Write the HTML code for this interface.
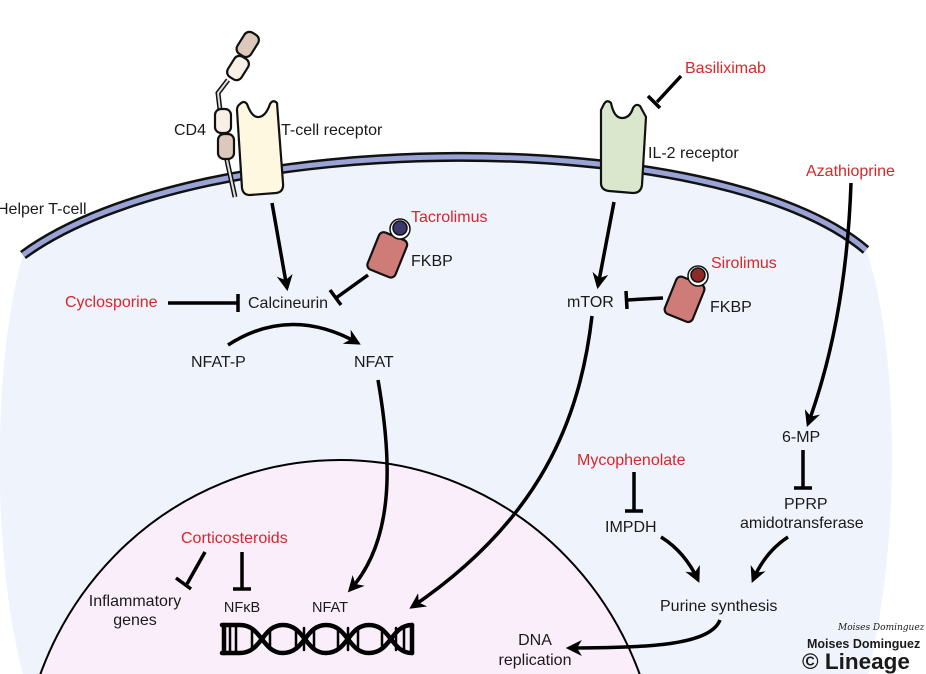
<!DOCTYPE html>
<html><head><meta charset="utf-8"><style>
html,body{margin:0;padding:0;background:#fff;overflow:hidden;width:926px;height:674px;}
svg{display:block;}
text{font-family:"Liberation Sans",Arial,sans-serif;font-size:16px;fill:#1a1a1a;}
.r{fill:#d8262a;}
</style></head><body>
<svg width="926" height="674" viewBox="0 0 926 674" xmlns="http://www.w3.org/2000/svg">
<defs>
<marker id="ah" viewBox="0 0 10 10" refX="8" refY="5" markerWidth="4.6" markerHeight="4.6" orient="auto" markerUnits="strokeWidth">
<path d="M0,0 L10,5 L0,10 L3,5 Z" fill="#000"/></marker>
</defs>
<path d="M23,255 C200,125 720,125 866,250 C895,330 905,520 868,674 L23,674 C-8,560 -8,360 23,255 Z" fill="#eff3fc"/>
<ellipse cx="340" cy="790" rx="320" ry="330" fill="#fbeefb" stroke="#000" stroke-width="2"/>
<path d="M23,255 C200,125 720,125 866,250" fill="none" stroke="#111" stroke-width="10"/>
<path d="M23,255 C200,125 720,125 866,250" fill="none" stroke="#9aa3d6" stroke-width="5"/>

<path d="M235,197 L228,165 L222,135" stroke="#111" stroke-width="5" fill="none"/>
<path d="M235,197 L228,165 L222,135" stroke="#ddd" stroke-width="2" fill="none"/>
<path d="M220,110 L218,93 L228,80" stroke="#111" stroke-width="5" fill="none"/>
<path d="M220,110 L218,93 L228,80" stroke="#ddd" stroke-width="2" fill="none"/>
<rect x="215" y="109" width="16" height="24" rx="6" fill="#f8efe6" stroke="#111" stroke-width="2.2"/>
<rect x="218" y="134" width="16" height="25" rx="6" fill="#dcc9bb" stroke="#111" stroke-width="2.2"/>
<rect x="230" y="56" width="16" height="24" rx="6" fill="#f8efe6" stroke="#111" stroke-width="2.2" transform="rotate(32 238 68)"/>
<rect x="240" y="32" width="16" height="25" rx="6" fill="#dcc9bb" stroke="#111" stroke-width="2.2" transform="rotate(32 248 44)"/>
<path d="M240,104 Q244,100 247,104 Q252,118 259,117 Q266,116 270,104 Q273,99 277,103 L283,183 Q284,192 276,193 L250,195 Q243,195 242,188 L237,110 Q237,106 240,104 Z" fill="#fdf8df" stroke="#111" stroke-width="2.2"/>
<text x="174" y="135">CD4</text>
<text x="281" y="135">T-cell receptor</text>
<text x="-3" y="214">Helper T-cell</text>

<line x1="272" y1="203" x2="287" y2="288" stroke="#000" stroke-width="3.5" marker-end="url(#ah)"/>
<text x="248" y="308">Calcineurin</text>
<text x="65" y="307" class="r">Cyclosporine</text>
<line x1="168" y1="303" x2="238" y2="303" stroke="#000" stroke-width="3.5"/>
<line x1="238" y1="294" x2="238" y2="312" stroke="#000" stroke-width="3.5"/>
<text x="411" y="222" class="r">Tacrolimus</text>
<g transform="rotate(22 388 253)">
<rect x="373" y="235" width="30" height="40" rx="5" fill="#cf7b78" stroke="#111" stroke-width="2.2"/>
</g>
<circle cx="400" cy="229" r="10" fill="#fff" stroke="#111" stroke-width="1.5"/>
<circle cx="400" cy="228" r="7" fill="#3b3a6e" stroke="#111" stroke-width="1.5"/>
<text x="411" y="266">FKBP</text>
<line x1="368" y1="275" x2="336" y2="298" stroke="#000" stroke-width="3.5"/>
<line x1="330" y1="290" x2="341" y2="305" stroke="#000" stroke-width="3.5"/>
<path d="M228,345 Q290,305 358,343" fill="none" stroke="#000" stroke-width="3.5" marker-end="url(#ah)"/>
<text x="191" y="367">NFAT-P</text>
<text x="354" y="367">NFAT</text>
<path d="M378,380 C392,460 395,540 350,590" fill="none" stroke="#000" stroke-width="3.5" marker-end="url(#ah)"/>

<path d="M604,104 Q607,99 611,103 Q614,118 622,118 Q630,118 633,108 Q636,103 640,106 L646,117 L642,185 Q641,193 633,193 L609,191 Q601,190 601,183 L601,110 Z" fill="#dbe7cd" stroke="#111" stroke-width="2.2"/>
<text x="648" y="158">IL-2 receptor</text>
<text x="685" y="73" class="r">Basiliximab</text>
<line x1="681" y1="76" x2="657" y2="102" stroke="#000" stroke-width="3.5"/>
<line x1="648" y1="96" x2="660" y2="108" stroke="#000" stroke-width="3.5"/>
<line x1="614" y1="202" x2="598" y2="286" stroke="#000" stroke-width="3.5" marker-end="url(#ah)"/>
<text x="567" y="307">mTOR</text>
<text x="711" y="268" class="r">Sirolimus</text>
<g transform="rotate(22 684 298)">
<rect x="670" y="279" width="30" height="40" rx="5" fill="#cf7b78" stroke="#111" stroke-width="2.2"/>
</g>
<circle cx="698" cy="276" r="10" fill="#fff" stroke="#111" stroke-width="1.5"/>
<circle cx="698" cy="275" r="7" fill="#8a2b2a" stroke="#111" stroke-width="1.5"/>
<text x="710" y="312">FKBP</text>
<line x1="663" y1="298" x2="627" y2="300" stroke="#000" stroke-width="3.5"/>
<line x1="626" y1="291" x2="627" y2="309" stroke="#000" stroke-width="3.5"/>
<path d="M592,316 C580,420 540,520 412,607" fill="none" stroke="#000" stroke-width="3.5" marker-end="url(#ah)"/>

<text x="806" y="176" class="r">Azathioprine</text>
<path d="M851,183 C848,270 835,350 808,424" fill="none" stroke="#000" stroke-width="3.5" marker-end="url(#ah)"/>
<text x="782" y="442">6-MP</text>
<line x1="803" y1="450" x2="803" y2="488" stroke="#000" stroke-width="3.5"/>
<line x1="794" y1="488" x2="812" y2="488" stroke="#000" stroke-width="3.5"/>
<text x="784" y="509">PPRP</text>
<text x="740" y="528">amidotransferase</text>
<text x="577" y="465" class="r">Mycophenolate</text>
<line x1="634" y1="472" x2="634" y2="511" stroke="#000" stroke-width="3.5"/>
<line x1="625" y1="511" x2="643" y2="511" stroke="#000" stroke-width="3.5"/>
<text x="605" y="532">IMPDH</text>
<path d="M661,537 Q685,552 698,580" fill="none" stroke="#000" stroke-width="3.5" marker-end="url(#ah)"/>
<path d="M788,537 Q765,552 753,580" fill="none" stroke="#000" stroke-width="3.5" marker-end="url(#ah)"/>
<text x="660" y="611">Purine synthesis</text>
<path d="M720,620 C710,645 650,648 569,648" fill="none" stroke="#000" stroke-width="3.5" marker-end="url(#ah)"/>
<text x="535" y="645" text-anchor="middle">DNA</text>
<text x="535" y="665" text-anchor="middle">replication</text>

<text x="181" y="543" class="r">Corticosteroids</text>
<line x1="205" y1="552" x2="187" y2="584" stroke="#000" stroke-width="3.5"/>
<line x1="176" y1="578" x2="191" y2="589" stroke="#000" stroke-width="3.5"/>
<line x1="242" y1="552" x2="242" y2="589" stroke="#000" stroke-width="3.5"/>
<line x1="233" y1="589" x2="251" y2="589" stroke="#000" stroke-width="3.5"/>
<text x="135" y="606" text-anchor="middle">Inflammatory</text>
<text x="135" y="625" text-anchor="middle">genes</text>
<text x="242" y="612" text-anchor="middle" style="font-size:14.5px">NFκB</text>
<text x="330" y="612" text-anchor="middle" style="font-size:14.5px">NFAT</text>
<g stroke="#000" fill="none" stroke-linecap="round">
<g stroke-width="2.5">
<line x1="230" y1="627" x2="230" y2="651"/><line x1="236" y1="627" x2="236" y2="651"/>
<line x1="252" y1="630" x2="252" y2="648"/><line x1="270" y1="632" x2="270" y2="646"/>
<line x1="296" y1="630" x2="296" y2="648"/><line x1="304" y1="628" x2="304" y2="650"/>
<line x1="314" y1="630" x2="314" y2="648"/>
<line x1="338" y1="630" x2="338" y2="648"/><line x1="348" y1="628" x2="348" y2="650"/>
<line x1="358" y1="630" x2="358" y2="648"/>
<line x1="382" y1="632" x2="382" y2="646"/><line x1="396" y1="628" x2="396" y2="650"/>
<line x1="404" y1="627" x2="404" y2="651"/>
</g>
<g stroke-width="4.5">
<path d="M222,625 L240,625 C262,625 262,653 283,653 C305,653 305,625 326,625 C348,625 348,653 369,653 C391,653 391,625 412,625"/>
<path d="M222,653 L240,653 C262,653 262,625 283,625 C305,625 305,653 326,653 C348,653 348,625 369,625 C391,625 391,653 412,653"/>
<line x1="224" y1="625" x2="224" y2="653"/>
<line x1="412" y1="625" x2="412" y2="653"/>
</g>
</g>

<text x="838" y="630" style="font-family:'DejaVu Serif',serif;font-style:italic;font-size:9px">Moises Dominguez</text>
<text x="807" y="648" style="font-size:12.5px;font-weight:bold">Moises Dominguez</text>
<text x="802" y="669" style="font-size:22.5px;font-weight:bold">© Lineage</text>
</svg>
</body></html>
